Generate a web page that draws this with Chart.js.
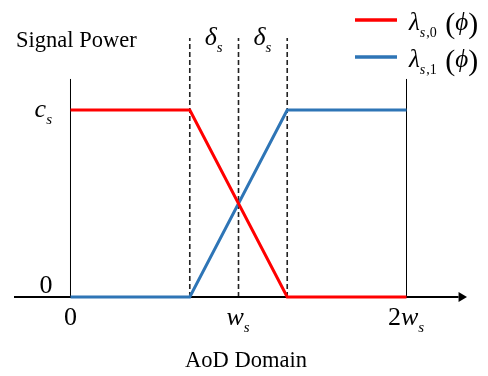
<!DOCTYPE html>
<html>
<head>
<meta charset="utf-8">
<script src="https://cdn.jsdelivr.net/npm/chart.js@4.4.1/dist/chart.umd.min.js"></script>
<style>
  html, body { margin: 0; padding: 0; background: #fff; }
  canvas { display: block; }
</style>
</head>
<body>
<canvas id="chart" width="488" height="376"></canvas>
<script>
// AoD axis in units of w_s, signal power in units of c_s
const aodPoints = [0, 0.71, 1.29, 2];
const lambda0 = [1, 1, 0, 0];
const lambda1 = [0, 0, 1, 1];
const dashedX = [0.71, 1, 1.29];
const xTickValues = [0, 1, 2];
const xTickLabels = [
    [{ t: '0' }],
    [{ t: 'w', it: true }, { t: 's', it: true, sub: true }],
    [{ t: '2' }, { t: 'w', it: true }, { t: 's', it: true, sub: true }]
];
const yTickValues = [0, 1];
const yTickLabels = [
    [{ t: '0' }],
    [{ t: 'c', it: true }, { t: 's', it: true, sub: true }]
];
const deltaLabel = [{ t: 'δ', it: true }, { t: 's', it: true, sub: true }];
const seriesLabels = [
    [{ t: 'λ', it: true }, { t: 's', it: true, sub: true }, { t: ',0', sub: true }, { t: ' (', big: true }, { t: 'ϕ', it: true }, { t: ')', big: true }],
    [{ t: 'λ', it: true }, { t: 's', it: true, sub: true }, { t: ',1', sub: true }, { t: ' (', big: true }, { t: 'ϕ', it: true }, { t: ')', big: true }]
];
const seriesColors = ['#ff0000', '#2e75b6'];

const xMin = -0.3363, xMax = 2.3601;
const yMin = -0.2139, yMax = 1.385;
const frameTop = 1.166;
const arrowBase = 2.31;

const SERIF = '"Liberation Serif", "DejaVu Serif", serif';

function pts(xs, ys) {
    return xs.map((x, i) => ({ x: x, y: ys[i] }));
}

function guide(data, width, dash, color) {
    return {
        data: data,
        showLine: true,
        borderColor: color || '#000',
        borderWidth: width,
        borderDash: dash || [],
        pointRadius: 0,
        clip: false
    };
}

function partFont(p, size) {
    const s = p.sub ? Math.round(size * 0.58) : (p.big ? Math.round(size * 1.2) : size);
    return (p.it ? 'italic ' : '') + s + 'px ' + SERIF;
}

function mathWidth(ctx, parts, size) {
    let w = 0;
    parts.forEach(p => {
        ctx.font = partFont(p, size);
        w += ctx.measureText(p.t).width + (p.sub ? 1 : 0);
    });
    return w;
}

function drawMath(ctx, parts, x, y, size, align) {
    let cx = x;
    const total = mathWidth(ctx, parts, size);
    if (align === 'center') cx = x - total / 2;
    if (align === 'right') cx = x - total;
    ctx.textAlign = 'left';
    ctx.textBaseline = 'alphabetic';
    ctx.fillStyle = '#000';
    parts.forEach(p => {
        ctx.font = partFont(p, size);
        const dy = p.sub ? size * 0.27 : (p.big ? size * 0.12 : 0);
        ctx.fillText(p.t, cx, y + dy);
        cx += ctx.measureText(p.t).width + (p.sub ? 1 : 0);
    });
}

const decorations = {
    id: 'decorations',
    afterDraw(chart) {
        const ctx = chart.ctx;
        const xs = chart.scales.x;
        const ys = chart.scales.y;
        const y0 = ys.getPixelForValue(0);

        ctx.save();

        // arrow head on the AoD axis
        const ab = xs.getPixelForValue(arrowBase);
        const at = xs.getPixelForValue(xMax);
        ctx.fillStyle = '#000';
        ctx.beginPath();
        ctx.moveTo(ab, y0 - 5);
        ctx.lineTo(at, y0);
        ctx.lineTo(ab, y0 + 5);
        ctx.closePath();
        ctx.fill();

        // tick labels
        xTickValues.forEach((v, i) => {
            drawMath(ctx, xTickLabels[i], xs.getPixelForValue(v), 325, 26, 'center');
        });
        drawMath(ctx, yTickLabels[0], 46, ys.getPixelForValue(yTickValues[0]) - 4, 26, 'center');
        drawMath(ctx, yTickLabels[1], 53, ys.getPixelForValue(yTickValues[1]) + 7, 26, 'right');

        // delta_s labels between the dashed lines
        for (let i = 0; i < dashedX.length - 1; i++) {
            const mid = xs.getPixelForValue((dashedX[i] + dashedX[i + 1]) / 2);
            drawMath(ctx, deltaLabel, mid, 45, 26, 'center');
        }

        // axis titles
        drawMath(ctx, [{ t: 'Signal Power' }], 16, 47, 22.5, 'left');
        drawMath(ctx, [{ t: 'AoD Domain' }], 246, 367, 22.5, 'center');

        // legend
        const legendY = [20, 57];
        seriesLabels.forEach((parts, i) => {
            ctx.strokeStyle = seriesColors[i];
            ctx.lineWidth = 3.5;
            ctx.beginPath();
            ctx.moveTo(355, legendY[i]);
            ctx.lineTo(397, legendY[i]);
            ctx.stroke();
            drawMath(ctx, parts, 409, legendY[i] + 10, 25, 'left');
        });

        ctx.restore();
    }
};

new Chart(document.getElementById('chart'), {
    type: 'scatter',
    data: {
        datasets: [
            {
                label: 'lambda_s,0',
                data: pts(aodPoints, lambda0),
                showLine: true,
                borderColor: seriesColors[0],
                borderWidth: 3,
                pointRadius: 0,
                clip: false
            },
            {
                label: 'lambda_s,1',
                data: pts(aodPoints, lambda1),
                showLine: true,
                borderColor: seriesColors[1],
                borderWidth: 3,
                pointRadius: 0,
                clip: false
            },
            guide([{ x: xMin, y: 0 }, { x: arrowBase, y: 0 }], 2),
            guide([{ x: 0, y: 0 }, { x: 0, y: frameTop }], 1),
            guide([{ x: 2, y: 0 }, { x: 2, y: frameTop }], 1),
            ...dashedX.map(x => guide([{ x: x, y: 0 }, { x: x, y: yMax }], 1.6, [5, 3], '#222'))
        ]
    },
    options: {
        responsive: false,
        animation: false,
        layout: { padding: { left: 14, right: 21, top: 38, bottom: 39 } },
        plugins: { legend: { display: false }, tooltip: { enabled: false } },
        scales: {
            x: { type: 'linear', display: false, min: xMin, max: xMax },
            y: { type: 'linear', display: false, min: yMin, max: yMax }
        }
    },
    plugins: [decorations]
});
</script>
</body>
</html>
